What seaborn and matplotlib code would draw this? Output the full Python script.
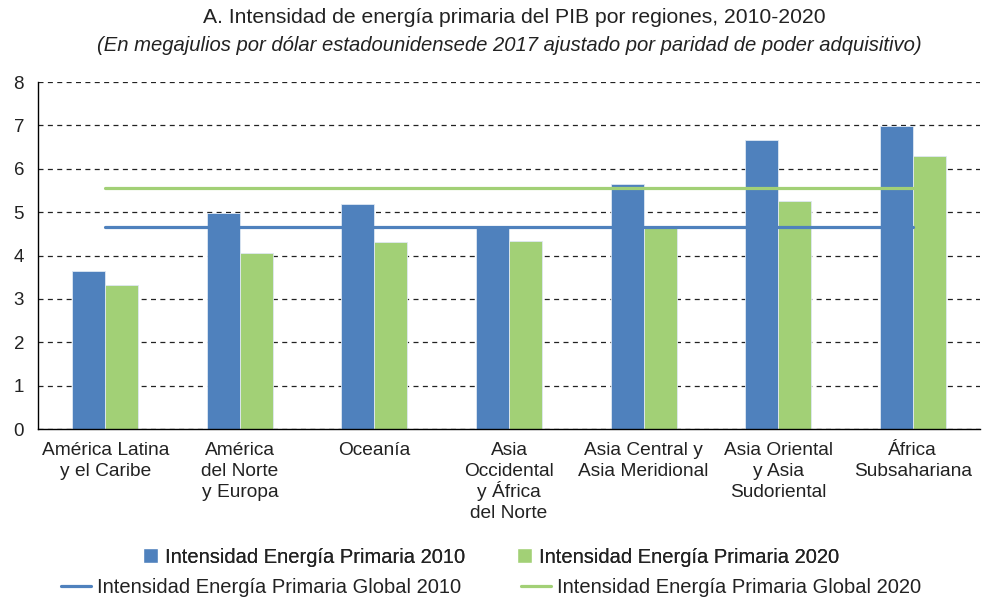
import pandas as pd
import numpy as np
import matplotlib
matplotlib.use('Agg')
import matplotlib.pyplot as plt
import matplotlib.transforms as mtransforms
import seaborn as sns
from matplotlib.patches import Patch
from matplotlib.lines import Line2D

# datos
regiones = ['América Latina\ny el Caribe', 'América\ndel Norte\ny Europa', 'Oceanía',
            'Asia\nOccidental\ny África\ndel Norte', 'Asia Central y\nAsia Meridional',
            'Asia Oriental\ny Asia\nSudoriental', 'África\nSubsahariana']
int_2010 = [3.65, 4.98, 5.18, 4.68, 5.66, 6.67, 6.98]
int_2020 = [3.32, 4.06, 4.31, 4.34, 4.63, 5.27, 6.29]
global_2010 = 4.66
global_2020 = 5.55

lab_2010 = 'Intensidad Energía Primaria 2010'
lab_2020 = 'Intensidad Energía Primaria 2020'
lab_g2010 = 'Intensidad Energía Primaria Global 2010'
lab_g2020 = 'Intensidad Energía Primaria Global 2020'

azul = '#4f81bd'
verde = '#a2d076'
txt = '#222222'

df = pd.DataFrame({
    'region': regiones * 2,
    'valor': int_2010 + int_2020,
    'serie': [lab_2010] * len(regiones) + [lab_2020] * len(regiones),
})
df_glob = pd.DataFrame({
    'x': list(range(len(regiones))) * 2,
    'valor': [global_2010] * len(regiones) + [global_2020] * len(regiones),
    'serie': [lab_g2010] * len(regiones) + [lab_g2020] * len(regiones),
})

sns.set_theme(style='white')
plt.rcParams['font.family'] = ['Liberation Sans', 'DejaVu Sans']

fig = plt.figure(figsize=(9.84, 6.01), dpi=100)
ax = fig.add_axes([0.0386, 0.286, 0.9574, 0.5774])

sns.barplot(data=df, x='region', y='valor', hue='serie', palette=[azul, verde],
            width=0.49, edgecolor='#dfe8f3', linewidth=0.6, saturation=1,
            legend=False, ax=ax, zorder=2)
sns.lineplot(data=df_glob, x='x', y='valor', hue='serie', palette=[azul, verde],
             linewidth=2.3, legend=False, ax=ax, zorder=3)

ax.set_ylim(0, 8)
ax.set_xlim(-0.5, len(regiones) - 0.5)
ax.set_yticks(range(0, 9))
ax.yaxis.grid(True, linestyle=(0, (4, 3.5)), color='#222222', linewidth=0.9)
ax.set_axisbelow(True)
ax.set_xlabel('')
ax.set_ylabel('')
for s in ['top', 'right']:
    ax.spines[s].set_visible(False)
for s in ['left', 'bottom']:
    ax.spines[s].set_color('black')
    ax.spines[s].set_linewidth(1.0)

# etiquetas de categoría, línea por línea para un interlineado uniforme
ax.set_xticks(range(len(regiones)))
ax.set_xticklabels([''] * len(regiones))
ax.set_xticks(np.arange(-0.5, len(regiones), 1), minor=True)
ax.tick_params(axis='x', which='major', length=0)
ax.tick_params(axis='x', which='minor', length=6, width=1, color='black', direction='out')
ax.tick_params(axis='y', length=5, width=1, color='black', direction='out',
               labelsize=13.5, labelcolor=txt, pad=5)

base = mtransforms.blended_transform_factory(ax.transData, ax.transAxes)
for i, reg in enumerate(regiones):
    for j, linea in enumerate(reg.split('\n')):
        tr = mtransforms.offset_copy(base, fig=fig, y=-(26 + 21 * j), units='dots')
        ax.text(i, 0, linea, transform=tr, ha='center', va='baseline',
                fontsize=13.8, color=txt)

fig.text(0.523, 0.971, 'A. Intensidad de energía primaria del PIB por regiones, 2010-2020',
         ha='center', va='center', fontsize=15.2, color=txt)
fig.text(0.518, 0.925, '(En megajulios por dólar estadounidensede 2017 ajustado por paridad de poder adquisitivo)',
         ha='center', va='center', fontsize=14.6, style='italic', color=txt)

fila1 = [Patch(facecolor=azul, label=lab_2010), Patch(facecolor=verde, label=lab_2020)]
fila2 = [Line2D([0], [0], color=azul, lw=2.3, label=lab_g2010),
         Line2D([0], [0], color=verde, lw=2.3, label=lab_g2020)]
leg1 = fig.legend(handles=fila1, ncol=2, loc='center', bbox_to_anchor=(0.499, 0.073),
                  frameon=False, fontsize=14.5, handlelength=0.75, handleheight=0.75,
                  handletextpad=0.35, columnspacing=2.6, labelcolor=txt,
                  borderpad=0, borderaxespad=0)
leg2 = fig.legend(handles=fila2, ncol=2, loc='center', bbox_to_anchor=(0.499, 0.023),
                  frameon=False, fontsize=14.5, handlelength=1.5,
                  handletextpad=0.3, columnspacing=2.95, labelcolor=txt,
                  borderpad=0, borderaxespad=0)
fig.add_artist(leg1)

fig.savefig('out.png', dpi=100)
